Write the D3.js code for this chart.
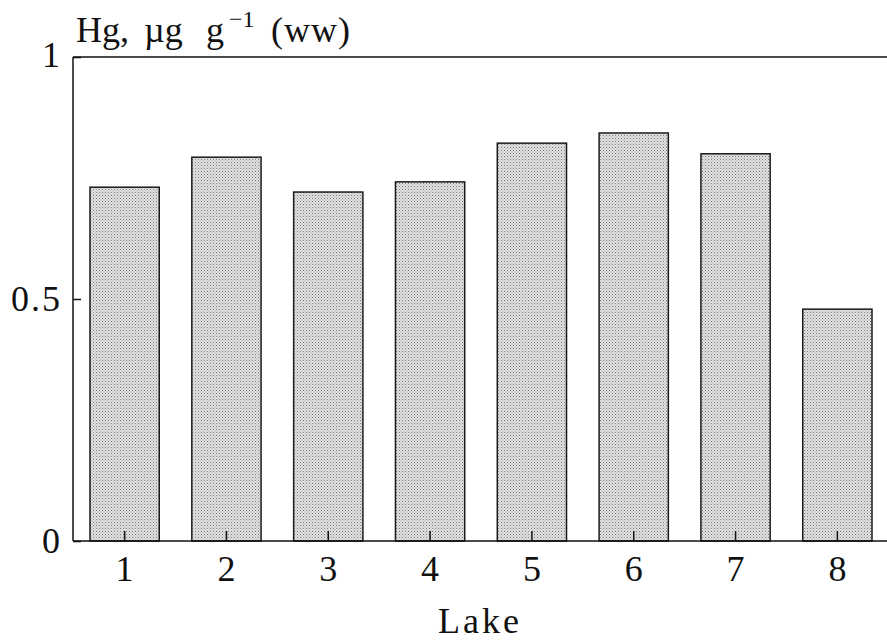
<!DOCTYPE html>
<html>
<head>
<meta charset="utf-8">
<script src="https://cdn.jsdelivr.net/npm/d3@7"></script>
<style>
  html, body { margin: 0; padding: 0; background: #fff; }
  svg { display: block; }
</style>
</head>
<body>
<div id="chart"></div>
<script>
// Data
const lakes = ["1", "2", "3", "4", "5", "6", "7", "8"];
const hgValues = [0.731, 0.793, 0.721, 0.742, 0.822, 0.843, 0.80, 0.479];
const yTicks = [0, 0.5, 1];
const yTickLabels = ["0", "0.5", "1"];

const width = 887, height = 642;
const plotLeft = 73, plotTop = 57, plotBottom = 541;
const fontFamily = "'Liberation Serif', 'DejaVu Serif', serif";
const fontSize = 36;

const svg = d3.select("#chart").append("svg")
    .attr("width", width)
    .attr("height", height);

// stipple pattern for the bars
const defs = svg.append("defs");
const pat = defs.append("pattern")
    .attr("id", "stipple")
    .attr("patternUnits", "userSpaceOnUse")
    .attr("width", 3)
    .attr("height", 3);
pat.append("rect").attr("width", 3).attr("height", 3).attr("fill", "#e2e2e2");
pat.append("rect").attr("x", 0).attr("y", 0).attr("width", 1).attr("height", 1).attr("fill", "#7a7a7a");
pat.append("rect").attr("x", 1.5).attr("y", 1.5).attr("width", 1).attr("height", 1).attr("fill", "#a0a0a0");

const x = d3.scaleBand()
    .domain(lakes)
    .range([plotLeft, 889])
    .paddingInner(0.32)
    .paddingOuter(0.167);

const y = d3.scaleLinear()
    .domain([0, 1])
    .range([plotBottom, plotTop]);

// bars
svg.append("g")
    .selectAll("rect")
    .data(lakes)
    .join("rect")
    .attr("x", d => x(d))
    .attr("y", (d, i) => y(hgValues[i]))
    .attr("width", x.bandwidth())
    .attr("height", (d, i) => y(0) - y(hgValues[i]))
    .attr("fill", "url(#stipple)")
    .attr("stroke", "#1a1a1a")
    .attr("stroke-width", 1.5);

// frame: left, bottom, top
const frame = svg.append("g")
    .attr("stroke", "#111")
    .attr("stroke-width", 1.5)
    .attr("fill", "none");
frame.append("line").attr("x1", plotLeft).attr("x2", plotLeft).attr("y1", plotTop).attr("y2", plotBottom);
frame.append("line").attr("x1", plotLeft).attr("x2", width).attr("y1", plotBottom).attr("y2", plotBottom);
frame.append("line").attr("x1", plotLeft).attr("x2", width).attr("y1", plotTop).attr("y2", plotTop);

// y axis (inward ticks)
const yAxis = d3.axisLeft(y)
    .tickValues(yTicks)
    .tickFormat((d, i) => yTickLabels[i])
    .tickSizeInner(-8)
    .tickSizeOuter(0)
    .tickPadding(11);
const gy = svg.append("g")
    .attr("transform", `translate(${plotLeft},0)`)
    .call(yAxis);
gy.select(".domain").remove();
gy.selectAll("line").attr("stroke", "#111").attr("stroke-width", 1.5);
gy.selectAll("text")
    .attr("font-family", fontFamily)
    .attr("font-size", fontSize)
    .attr("letter-spacing", 2)
    .attr("fill", "#111");
gy.selectAll(".tick").filter(d => d === 1).select("text").attr("dy", "0.25em");

// x axis (inward ticks)
const xAxis = d3.axisBottom(x)
    .tickSizeInner(-10)
    .tickSizeOuter(0)
    .tickPadding(14);
const gx = svg.append("g")
    .attr("transform", `translate(0,${plotBottom})`)
    .call(xAxis);
gx.select(".domain").remove();
gx.selectAll("line").attr("stroke", "#111").attr("stroke-width", 1.5);
gx.selectAll("text")
    .attr("font-family", fontFamily)
    .attr("font-size", fontSize)
    .attr("fill", "#111");

// x axis title
svg.append("text")
    .attr("x", 480)
    .attr("y", 633)
    .attr("text-anchor", "middle")
    .attr("font-family", fontFamily)
    .attr("font-size", fontSize)
    .attr("letter-spacing", 3)
    .attr("fill", "#111")
    .text("Lake");

// y axis title
const title = svg.append("text")
    .attr("y", 42)
    .attr("font-family", fontFamily)
    .attr("font-size", fontSize)
    .attr("fill", "#111");
title.append("tspan").attr("x", 76).text("Hg,");
title.append("tspan").attr("x", 144).text("µg");
title.append("tspan").attr("x", 206).text("g");
title.append("tspan").attr("x", 229).attr("dy", -15).attr("font-size", 24).text("−1");
title.append("tspan").attr("x", 271).attr("dy", 15).attr("letter-spacing", 1).text("(ww)");
</script>
</body>
</html>
